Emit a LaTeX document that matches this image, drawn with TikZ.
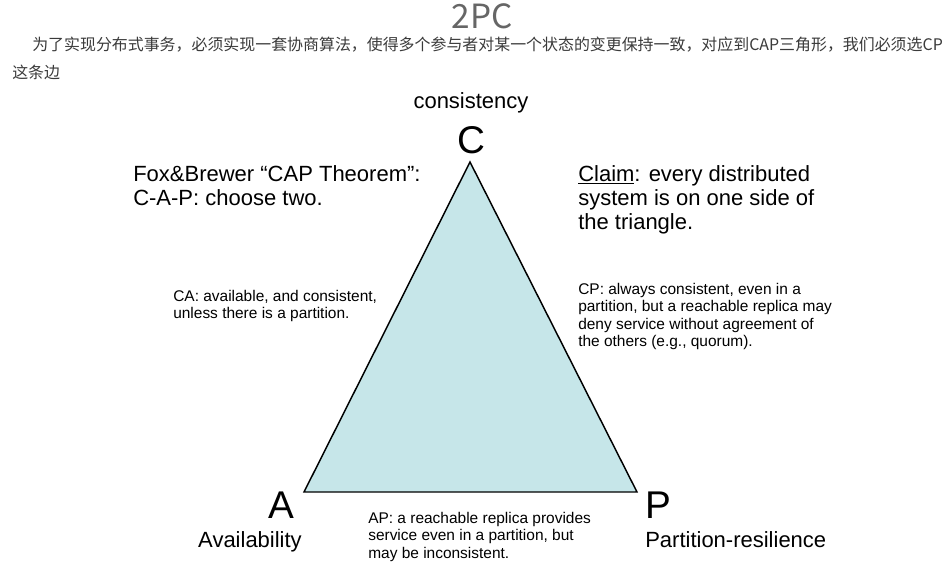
\documentclass[tikz,border=0pt]{standalone}
\usepackage{fontspec}
\setmainfont{Liberation Sans}
\newfontfamily\cjkfont{Noto Sans CJK SC}
\definecolor{trifill}{HTML}{C6E6E9}
\definecolor{headgray}{HTML}{666666}
\definecolor{bodygray}{HTML}{3A3A3A}

\begin{document}
\begin{tikzpicture}[x=0.75pt,y=-0.75pt,
  bigtext/.style={inner sep=0pt, align=left, font=\fontsize{16.5}{18}\selectfont},
  smalltext/.style={inner sep=0pt, align=left, font=\fontsize{11.6}{13.1}\selectfont},
  vertex/.style={inner sep=0pt, font=\fontsize{29}{30}\selectfont}]

\useasboundingbox (0,0) rectangle (943,568);

% heading and intro
\node[inner sep=0pt, text=headgray, font=\cjkfont\fontsize{25}{27}\selectfont] (title) at (482,16) {2PC};
\node[inner sep=0pt, anchor=west, text=bodygray, font=\cjkfont\fontsize{11.95}{14}\selectfont] (intro1) at (32,45)
  {为了实现分布式事务，必须实现一套协商算法，使得多个参与者对某一个状态的变更保持一致，对应到CAP三角形，我们必须选CP};
\node[inner sep=0pt, anchor=west, text=bodygray, font=\cjkfont\fontsize{11.95}{14}\selectfont] (intro2) at (12,72) {这条边};

% the triangle
\coordinate (ctop) at (470,162);
\coordinate (aleft) at (304,492);
\coordinate (pright) at (637,492);
\draw[fill=trifill, line width=1.1pt, line join=miter] (ctop) -- (aleft) -- (pright) -- cycle;

\node[vertex, anchor=base] (C) at (471,153) {C};
\node[vertex, anchor=base] (A) at (281.5,518) {A};
\node[vertex, anchor=base] (P) at (658.5,518) {P};

\node[bigtext, anchor=base] (cons) at (471,108) {consistency};
\node[bigtext, anchor=base] (avail) at (250,547) {Availability};
\node[bigtext, anchor=base west] (part) at (645,547) {Partition-resilience};

% the texts round it
\node[bigtext, anchor=north west] (fox) at (133,165) {Fox\&Brewer “CAP Theorem”:\\C-A-P: choose two.};
\node[bigtext, anchor=north west] (claim) at (578,165) {\underline{Claim}: every distributed\\system is on one side of\\the triangle.};

\node[smalltext, anchor=north west] (ca) at (173,290) {CA: available, and consistent,\\unless there is a partition.};
\node[smalltext, anchor=north west] (cp) at (578,283) {CP: always consistent, even in a\\partition, but a reachable replica may\\deny service without agreement of\\the others (e.g., quorum).};
\node[smalltext, anchor=north west] (ap) at (368,512) {AP: a reachable replica provides\\service even in a partition, but\\may be inconsistent.};

\end{tikzpicture}
\end{document}
